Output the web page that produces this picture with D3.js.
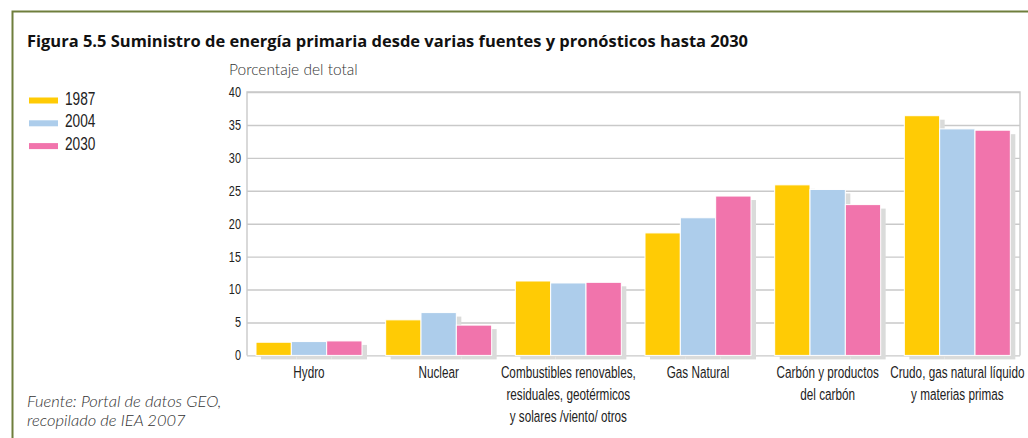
<!DOCTYPE html>
<html><head><meta charset="utf-8">
<script src="https://cdn.jsdelivr.net/npm/d3@7"></script>
<style>
html,body{margin:0;padding:0;background:#fff;}
svg{display:block;}
</style></head>
<body>
<svg id="c" width="1028" height="438"></svg>
<script>
const categories = ["Hydro","Nuclear","Combustibles renovables,|residuales, geotérmicos|y solares /viento/ otros","Gas Natural","Carbón y productos|del carbón","Crudo, gas natural líquido|y materias primas"];
const years = ["1987","2004","2030"];
const values1987 = [2.0, 5.4, 11.3, 18.6, 25.9, 36.4];
const values2004 = [2.1, 6.5, 11.0, 20.9, 25.2, 34.4];
const values2030 = [2.2, 4.6, 11.1, 24.2, 22.9, 34.2];
const yTicks = [0,5,10,15,20,25,30,35,40];
const colors = ["#FFCB05","#ADCDEB","#F174AC"];
const title = "Figura 5.5 Suministro de energía primaria desde varias fuentes y pronósticos hasta 2030";
const yTitle = "Porcentaje del total";
const source = ["Fuente: Portal de datos GEO,","recopilado de IEA 2007"];

const series = [values1987, values2004, values2030];
const svg = d3.select("#c");
const COND = "'Liberation Sans Narrow','Liberation Sans',Arial,sans-serif";

// outer frame
svg.append("path").attr("d","M12.5,438 L12.5,11.5 L1028,11.5")
  .attr("fill","none").attr("stroke","#6F7E3C").attr("stroke-width",2);

// title
svg.append("text").attr("x",27).attr("y",47).text(title)
  .attr("font-family","'Open Sans','Liberation Sans',sans-serif").attr("font-weight","bold")
  .attr("font-size",16).attr("fill","#111").attr("textLength",721).attr("lengthAdjust","spacingAndGlyphs");

const x0 = d3.scaleBand().domain(categories).range([247,1025]).padding(0);
const x1 = d3.scaleBand().domain(years).range([9,115]).padding(0);
const y = d3.scaleLinear().domain([0,40]).range([355.4,92]);

// gridlines
const gy = svg.append("g").attr("transform","translate(247,0)")
  .call(d3.axisLeft(y).tickValues(yTicks).tickSize(-773).tickFormat(""));
gy.select(".domain").remove();
gy.selectAll(".tick line").attr("stroke","#C9C9C9").attr("stroke-width",1.4);
// border
svg.append("path").attr("d",`M247,${y(0)} L247,${y(40)} L1020,${y(40)} L1020,${y(0)}`)
  .attr("fill","none").attr("stroke","#C9C9C9").attr("stroke-width",1.4);

// tick labels (horizontally condensed)
svg.append("g").selectAll("text").data(yTicks).join("text")
  .attr("transform",d=>`translate(241,${y(d)}) scale(0.78,1)`)
  .attr("dy","0.35em").attr("text-anchor","end")
  .attr("font-family",COND).attr("font-size",14).attr("fill","#222").text(d=>d);

// y title
svg.append("text").attr("x",229).attr("y",75).text(yTitle)
  .attr("font-family","Lato,'Open Sans',sans-serif").attr("font-weight",300)
  .attr("font-size",15.5).attr("fill","#333");

// bars
const groups = svg.append("g").selectAll("g").data(categories).join("g")
  .attr("transform",d=>`translate(${x0(d)},0)`);
const barData = (c,i)=>years.map((yr,k)=>({yr,k,v:series[k][i]}));
// shadows
groups.selectAll("rect.sh").data((c,i)=>barData(c,i)).join("rect").attr("class","sh")
  .attr("x",d=>x1(d.yr)+5).attr("y",d=>y(d.v)+4).attr("width",x1.bandwidth())
  .attr("height",d=>y(0)-y(d.v)).attr("fill","#DADBDA");
groups.selectAll("rect.bar").data((c,i)=>barData(c,i)).join("rect").attr("class","bar")
  .attr("x",d=>x1(d.yr)).attr("y",d=>y(d.v)).attr("width",x1.bandwidth())
  .attr("height",d=>y(0)-y(d.v)).attr("fill",d=>colors[d.k])
  .attr("stroke","#fff").attr("stroke-width",1);

// x labels: one text per line, horizontally condensed
groups.selectAll("text.xl").data(d=>d.split("|")).join("text").attr("class","xl")
  .attr("transform",(d,i)=>`translate(62,${378+i*21.8}) scale(0.69,1)`)
  .attr("text-anchor","middle")
  .attr("font-family",COND).attr("font-size",17).attr("fill","#222").text(d=>d);

// legend
const lg = svg.append("g").selectAll("g").data(years).join("g")
  .attr("transform",(d,i)=>`translate(29,${100+i*22.8})`);
lg.append("rect").attr("x",0).attr("y",-2.5).attr("width",29).attr("height",6).attr("fill",(d,i)=>colors[i]);
lg.append("text").attr("transform","translate(36,4.5) scale(0.72,1)").attr("font-family",COND)
  .attr("font-size",19).attr("fill","#222").text(d=>d);

// source
svg.append("g").selectAll("text").data(source).join("text")
  .attr("x",27).attr("y",(d,i)=>407+i*18.5).text(d=>d)
  .attr("font-family","Lato,'Open Sans',sans-serif").attr("font-style","italic").attr("font-weight",300)
  .attr("font-size",16.5).attr("fill","#333");
</script>
</body></html>
